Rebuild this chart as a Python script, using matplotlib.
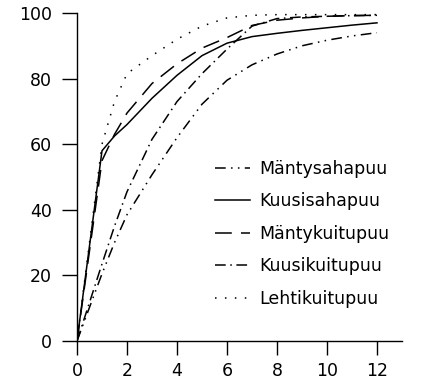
import matplotlib
matplotlib.use("Agg")
import matplotlib.pyplot as plt

# --- data ---
x_common = [0, 1, 1.5, 2, 3, 4, 5, 6, 7, 8, 9, 10, 11, 12]
mantysahapuu   = [0, 20.5, 30, 38.5, 50.7, 62, 72.2, 79.5, 84.2, 87.5, 90, 91.7, 93, 94]
kuusisahapuu   = [0, 58, 62.5, 66, 74, 81, 87, 90.8, 92.8, 93.8, 94.7, 95.5, 96.3, 97]
mantykuitupuu  = [0, 55, 63, 69.5, 78.5, 84.5, 89.3, 92.5, 96.2, 97.8, 98.5, 99, 99.2, 99.3]
kuusikuitupuu  = [0, 23.5, 35, 45.5, 61.5, 73, 81.5, 89, 96, 98.3, 98.8, 99, 99.2, 99.3]
lehtikuitupuu  = [0, 60, 73, 81.5, 87, 92, 96, 98.5, 99.3, 99.5, 99.5, 99.5, 99.5, 99.5]

labels = ["Mäntysahapuu", "Kuusisahapuu", "Mäntykuitupuu", "Kuusikuitupuu", "Lehtikuitupuu"]
x_ticks = [0, 2, 4, 6, 8, 10, 12]
y_ticks = [0, 20, 40, 60, 80, 100]

plt.rcParams['font.family'] = ['DejaVu Sans']

fig = plt.figure(figsize=(4.34, 3.83), dpi=100)
ax = fig.add_axes([77/434, 1-341/383, (402-77)/434, (341-13)/383])

lw = 1.1
series = [mantysahapuu, kuusisahapuu, mantykuitupuu, kuusikuitupuu, lehtikuitupuu]
styles = [
    (0, (7, 3.5, 1, 3.5, 1, 3.5)),
    '-',
    (0, (11, 6)),
    (0, (7, 3, 1, 3)),
    (0, (1, 5.5)),
]
for ys, ls, lab in zip(series, styles, labels):
    ax.plot(x_common, ys, color='black', lw=lw, linestyle=ls, label=lab)

ax.set_xlim(0, 13)
ax.set_ylim(0, 100)
ax.set_xticks(x_ticks)
ax.set_yticks(y_ticks)
ax.spines['top'].set_visible(False)
ax.spines['right'].set_visible(False)
for s in ['left', 'bottom']:
    ax.spines[s].set_linewidth(1.0)
ax.tick_params(axis='y', direction='out', length=11, width=1.0, pad=7, labelsize=12.5)
ax.tick_params(axis='x', direction='out', length=10, width=1.0, pad=5, labelsize=12.5)

leg = ax.legend(loc='upper left', bbox_to_anchor=(215/434, 1-160/383),
                bbox_transform=fig.transFigure, frameon=False, fontsize=12.5,
                handlelength=2.0, handletextpad=0.55, labelspacing=0.83,
                borderpad=0, borderaxespad=0)

fig.savefig("out.png", dpi=100)
